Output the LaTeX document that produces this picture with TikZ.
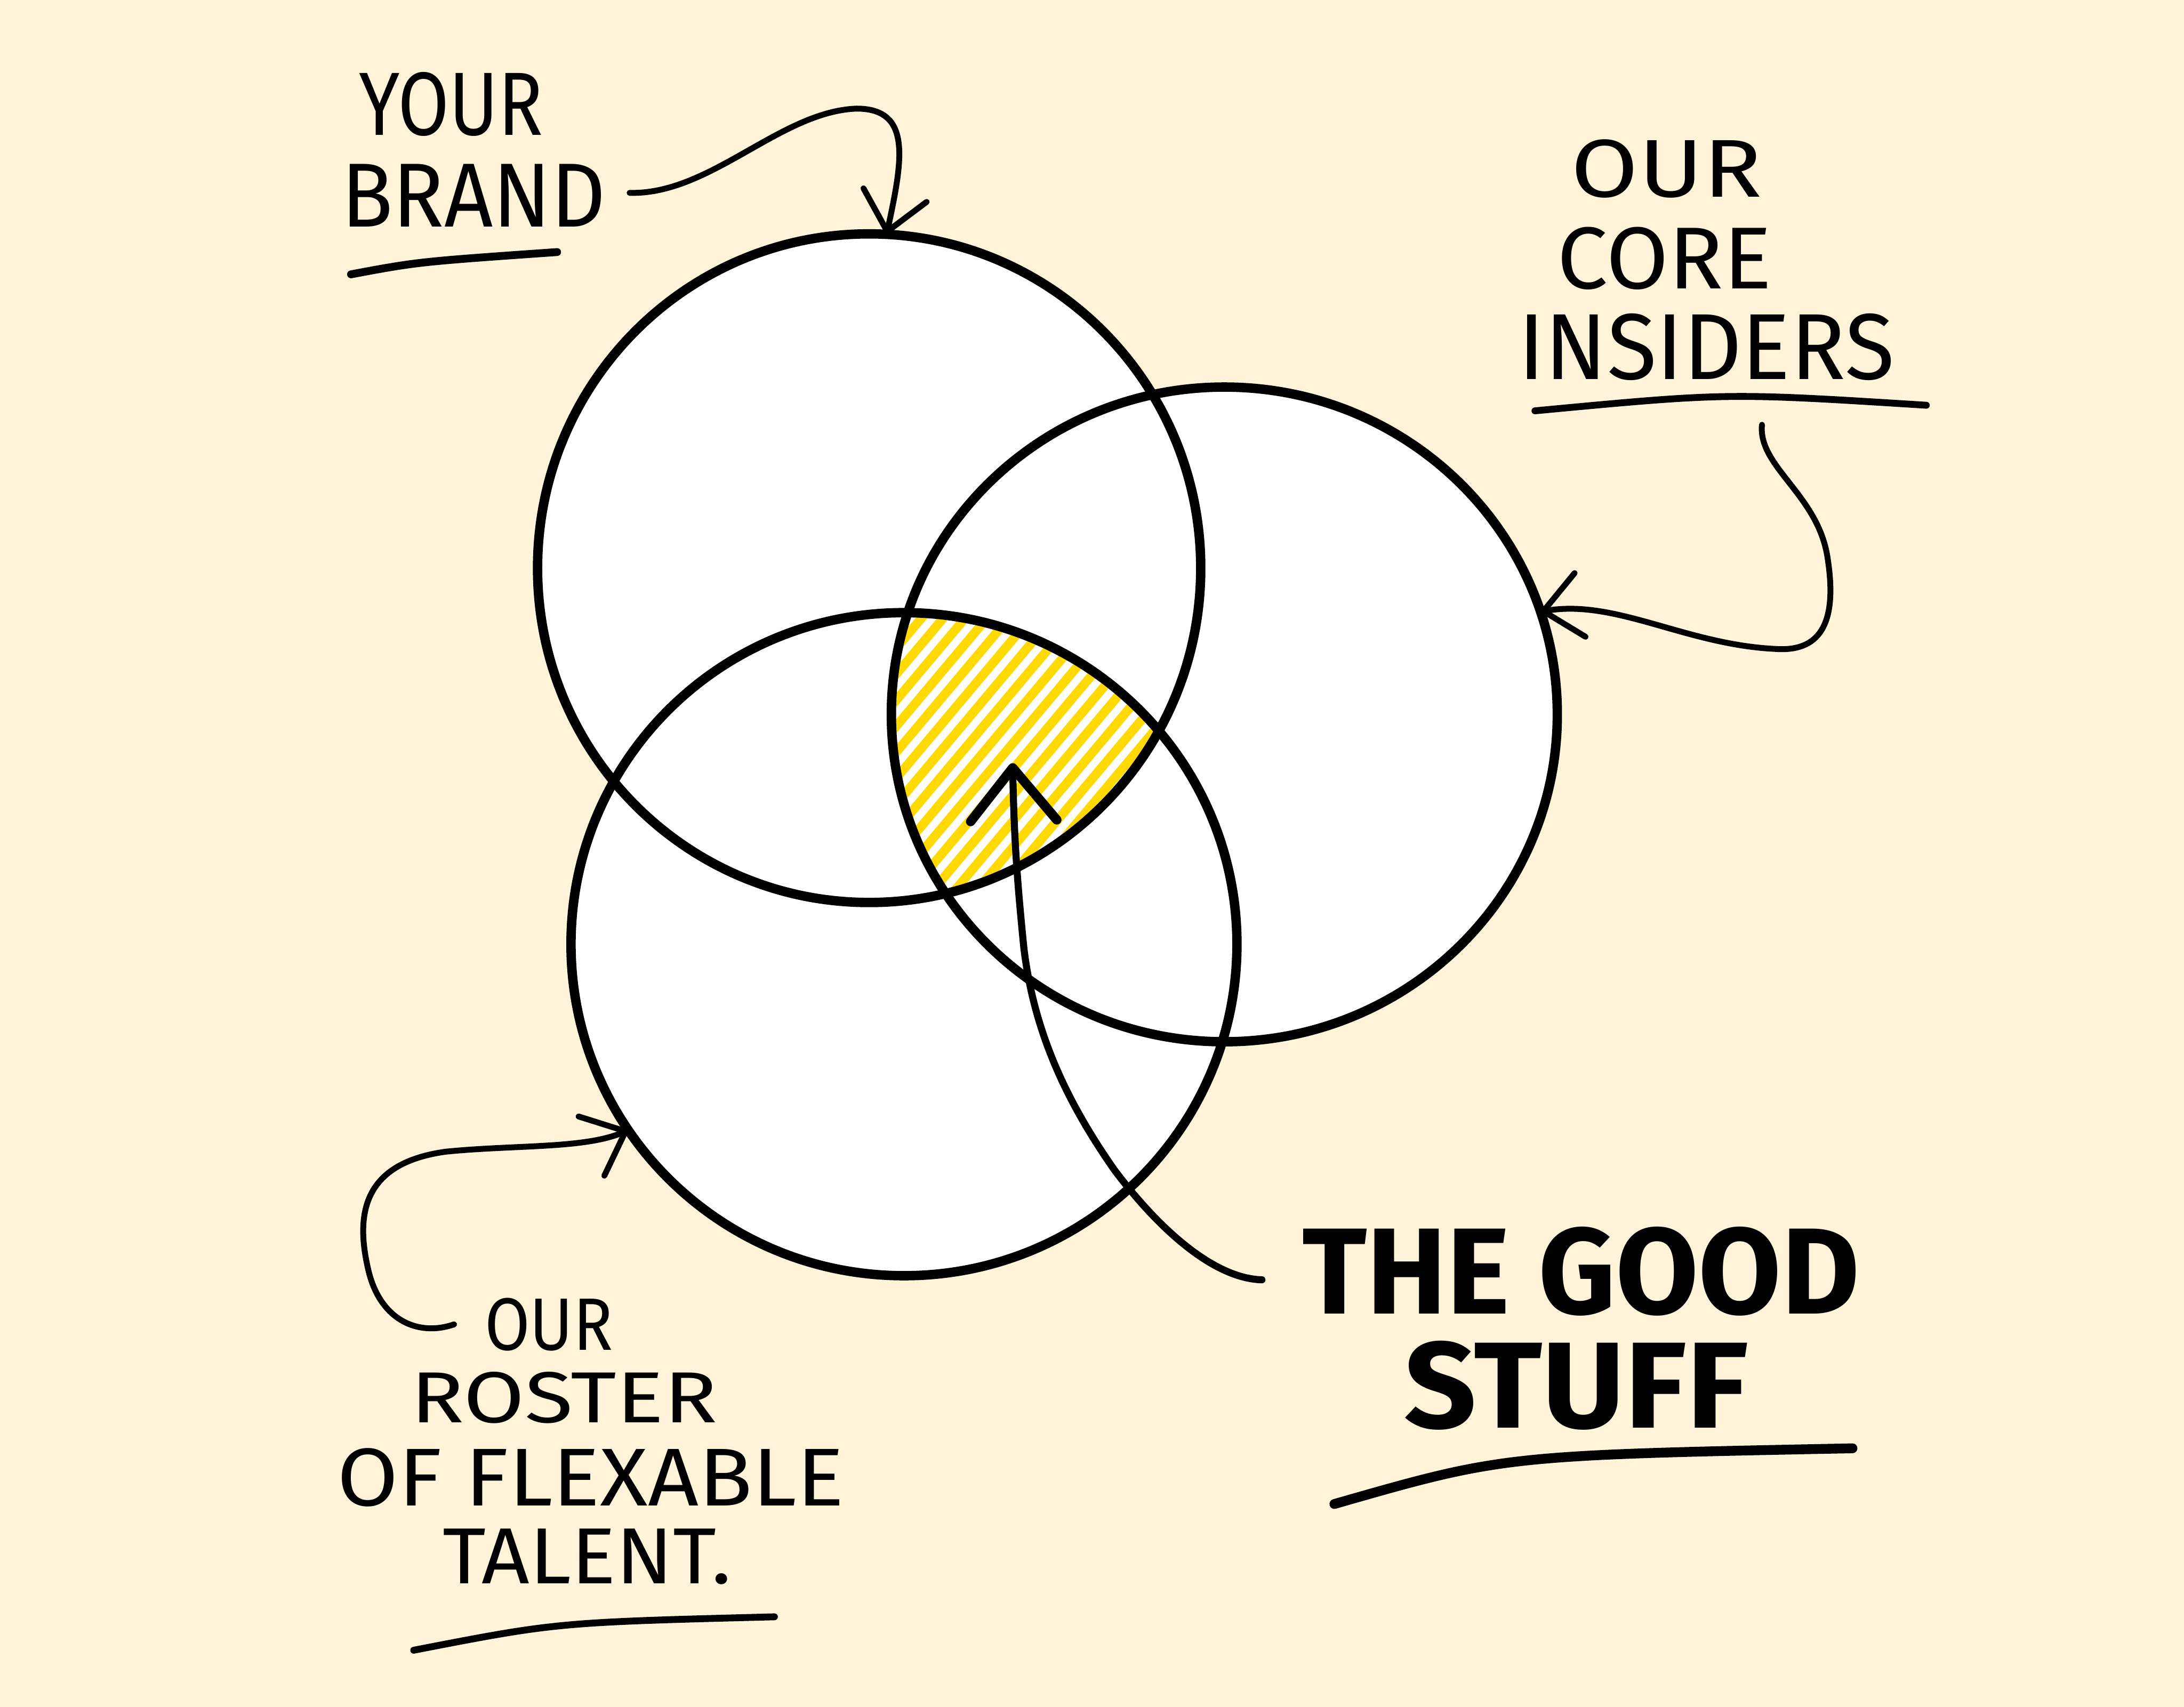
\documentclass[tikz,border=0pt]{standalone}
\usepackage{fontspec}
\setmainfont{Fira Sans}
\usetikzlibrary{shapes.geometric,arrows.meta,calc}
\definecolor{paper}{HTML}{FFF4D9}
\definecolor{hatch}{HTML}{FFD900}
\newlength\myu \setlength\myu{0.025cm}
\newcommand\hw[3]{\resizebox*{#1\myu}{#2\myu}{#3}}
\begin{document}
\begin{tikzpicture}[x=0.025cm,y=-0.025cm,
  vennfill/.style={ellipse, fill=white, draw=none, inner sep=0pt, outer sep=0pt},
  vennline/.style={draw=black, line width=4.8pt},
  lbl/.style={inner sep=0pt, outer sep=0pt, anchor=south west},
  conn/.style={draw=black, line width=3pt, line cap=round, line join=round,
    -{Straight Barb[length=19pt,width=33pt,round]}},
  bigconn/.style={draw=black, line width=3.6pt, line cap=round, line join=round,
    -{Straight Barb[length=27pt,width=44pt,round,line width=4.8pt]}},
  uline/.style={draw=black, line width=4pt, line cap=round},
  stripe/.style={draw=hatch, line width=4.6pt}]

\fill[paper] (0,0) rectangle (1568,1225.6);
\useasboundingbox (0,0) rectangle (1568,1225.6);

% circles (white fills)
\node[vennfill, minimum width=11.9cm, minimum height=12cm] (A) at (624,408) {};
\node[vennfill, minimum width=11.95cm, minimum height=11.75cm] (B) at (879,513) {};
\node[vennfill, minimum width=11.95cm, minimum height=11.9cm] (C) at (649,678) {};

% hatched triple intersection
\begin{scope}
  \clip (A.center) ellipse [x radius=5.95cm, y radius=6cm];
  \clip (B.center) ellipse [x radius=5.975cm, y radius=5.875cm];
  \clip (C.center) ellipse [x radius=5.975cm, y radius=5.95cm];
  \foreach \c in {756,768,...,1080}
    \draw[stripe] ({0.766*\c-192.9},{0.643*\c+229.8}) -- ({0.766*\c+192.9},{0.643*\c-229.8});
\end{scope}

% circle outlines
\draw[vennline] (A.center) ellipse [x radius=5.95cm, y radius=6cm];
\draw[vennline] (B.center) ellipse [x radius=5.975cm, y radius=5.875cm];
\draw[vennline] (C.center) ellipse [x radius=5.975cm, y radius=5.95cm];

% labels
\node[lbl] (your) at (258,98) {\hw{132}{46}{YOUR}};
\node[lbl] (brand) at (245,163) {\hw{190}{45}{BRAND}};
\node[lbl] (our1) at (1128,142) {\hw{137}{42}{OUR}};
\node[lbl] (core) at (1118,208) {\hw{154}{45}{CORE}};
\node[lbl] (insiders) at (1090,273) {\hw{270}{48}{INSIDERS}};
\node[lbl] (our2) at (348,970) {\hw{92}{38}{OUR}};
\node[lbl] (roster) at (295,1022) {\hw{220}{37}{ROSTER}};
\node[lbl] (flex) at (242,1082) {\hw{364}{42}{OF FLEXABLE}};
\node[lbl] (talent) at (318,1138) {\hw{207}{40}{TALENT.}};
\node[lbl] (good) at (935,945) {\hw{400}{64}{\bfseries THE GOOD}};
\node[lbl] (stuff) at (1008,1027) {\hw{247}{64}{\bfseries STUFF}};

% underlines
\draw[uline] (252,197) .. controls (300,188) .. (400,181);
\draw[uline, line width=3.5pt] (1102,295) .. controls (1240,282) .. (1383,291);
\draw[uline, line width=3.5pt] (297,1185) .. controls (400,1165) .. (556,1161);
\draw[uline, line width=5pt] (958,1080) .. controls (1080,1045) .. (1330,1040);

% connectors
\coordinate (insstart) at (1265,305);
\coordinate (focus) at (727,548);
\draw[conn] ($(brand.east)+(17,-2)$) .. controls (510,140) and (560,80) .. (615,78)
  .. controls (655,78) and (648,115) .. (A.87);
\draw[conn] (insstart) .. controls (1262,335) and (1305,355) .. (1312,400)
  .. controls (1320,450) and (1305,468) .. (1275,466)
  .. controls (1210,463) and (1160,430) .. (B.18);
\draw[conn] ($(our2.west)+(-22,0)$) .. controls (300,960) and (272,948) .. (264,910)
  .. controls (255,870) and (262,835) .. (320,827)
  .. controls (370,822) and (420,825) .. (C.214);
\draw[bigconn] ($(good.west)+(-29,6)$) .. controls (870,918) and (830,880) .. (800,840)
  .. controls (765,790) and (742,740) .. (735,680)
  .. controls (730,630) and (728,600) .. (focus);
\end{tikzpicture}
\end{document}
